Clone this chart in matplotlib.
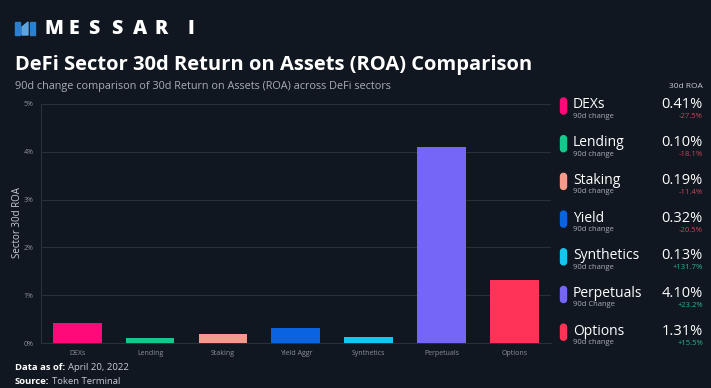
import matplotlib
matplotlib.use("Agg")
import matplotlib.pyplot as plt
from matplotlib.patches import FancyBboxPatch, Polygon

categories = ["DEXs", "Lending", "Staking", "Yield Aggr", "Synthetics", "Perpetuals", "Options"]
legend_names = ["DEXs", "Lending", "Staking", "Yield", "Synthetics", "Perpetuals", "Options"]
roa = [0.41, 0.10, 0.19, 0.32, 0.13, 4.10, 1.31]
change_labels = ["-27.5%", "-18.1%", "-11.4%", "-20.5%", "+131.7%", "+23.2%", "+15.5%"]
change_sub = ["90d change", "90d change", "90d change", "90d change", "90d change", "90d Change", "90d change"]
colors = ["#ff0a78", "#12c98c", "#f59a8a", "#0a63e0", "#12c8f0", "#7467f7", "#ff3358"]
yticks = [0, 1, 2, 3, 4, 5]

BG = "#111720"
W, H = 711, 388
plt.rcParams['font.family'] = ['Open Sans', 'DejaVu Sans']
fig = plt.figure(figsize=(W / 100, H / 100), dpi=100, facecolor=BG)
renderer = fig.canvas.get_renderer()

def px(x, y):
    return x / W, 1 - y / H

# axes
l, r, t, b = 40.7, 551, 104, 343
ax = fig.add_axes([l / W, 1 - b / H, (r - l) / W, (b - t) / H])
ax.set_facecolor(BG)
x = range(len(categories))
ax.bar(x, roa, width=0.67, color=colors, zorder=3)
ax.set_xlim(-0.5, 6.5)
ax.set_ylim(0, 5)
ax.set_yticks(yticks)
ax.set_yticklabels([f"{v}%" for v in yticks], color="#8a8f99", fontsize=5)
ax.set_xticks(list(x))
ax.set_xticklabels(categories, color="#8a8f99", fontsize=5)
ax.tick_params(axis="y", length=0, pad=5)
ax.tick_params(axis="x", length=0, pad=5)
ax.grid(axis="y", color="#2a3039", linewidth=0.8, zorder=0)
for s in ["top", "right"]:
    ax.spines[s].set_visible(False)
ax.spines["left"].set_color("#2a3039")
ax.spines["bottom"].set_color("#2a3039")
fig.text(*px(18, 223), "Sector 30d ROA", color="#c8ccd2", fontsize=7, rotation=90,
         va="center", ha="center")

# logo
for i, (x0, c) in enumerate([(15, "#2a7fd0"), (22, "#5aa6e4"), (30, "#2a7fd0")]):
    pts = [(x0, 35), (x0 + 5, 35), (x0 + 5, 22), (x0, 22)]
    if i == 1:
        pts = [(x0, 27), (x0 + 6, 22), (x0 + 6, 35), (x0, 35)]
    fig.patches.append(Polygon([px(a, bb) for a, bb in pts], closed=True,
                               transform=fig.transFigure, color=c))
for ch, lx in zip("MESSARI", [45, 68, 88, 111, 133, 155, 187]):
    fig.text(*px(lx, 29), ch, color="white", fontsize=14, fontweight="heavy",
             va="center", ha="left")

fig.text(*px(15, 65), "DeFi Sector 30d Return on Assets (ROA) Comparison", color="white",
         fontsize=14.5, fontweight="bold", va="center", ha="left")
fig.text(*px(15, 86), "90d change comparison of 30d Return on Assets (ROA) across DeFi sectors",
         color="#a8adb5", fontsize=7.8, va="center", ha="left")

# legend panel
fig.text(*px(703, 87), "30d ROA", color="#c8ccd2", fontsize=6, va="center", ha="right")
y0, dy = 105, 37.7
for i in range(len(legend_names)):
    yy = y0 + i * dy
    pill = FancyBboxPatch(px(560.5, yy + 9), 6 / W, 16 / H,
                          boxstyle="round,pad=0,rounding_size=0.004",
                          transform=fig.transFigure, color=colors[i],
                          mutation_aspect=W / H)
    fig.patches.append(pill)
    fig.text(*px(573, yy), legend_names[i], color="white", fontsize=10, va="center", ha="left")
    fig.text(*px(573, yy + 11.5), change_sub[i], color="#a8adb5", fontsize=5.5, va="center", ha="left")
    fig.text(*px(703, yy), f"{roa[i]:.2f}%", color="white", fontsize=10.5, va="center", ha="right")
    cc = "#c8465c" if change_labels[i].startswith("-") else "#2db38a"
    fig.text(*px(703, yy + 12), change_labels[i], color=cc, fontsize=5.5, va="center", ha="right")

# footer
def footer(label, value, yy):
    t1 = fig.text(*px(15, yy), label + ":", color="white", fontsize=6.8, fontweight="bold",
                  va="center", ha="left")
    bb = t1.get_window_extent(renderer)
    fig.text(bb.x1 / W + 3 / W, 1 - yy / H, value, color="#c8ccd2", fontsize=6.8,
             va="center", ha="left")

footer("Data as of", "April 20, 2022", 367)
footer("Source", "Token Terminal", 382)

fig.savefig("out.png", dpi=100, facecolor=BG)
